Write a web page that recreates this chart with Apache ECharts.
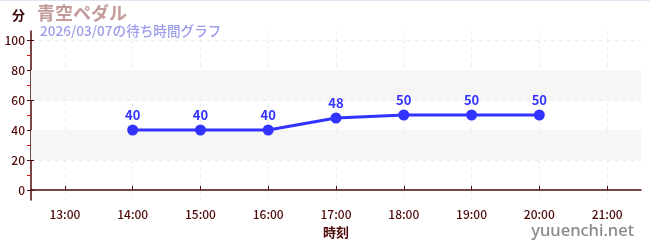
<!DOCTYPE html>
<html>
<head>
<meta charset="utf-8">
<script src="https://cdn.jsdelivr.net/npm/echarts@6/dist/echarts.min.js"></script>
<style>
html,body{margin:0;padding:0;background:#fff;}
#c{width:650px;height:250px;}
</style>
</head>
<body>
<div id="c"></div>
<script>
// ---- data ----
const times = ['14:00', '15:00', '16:00', '17:00', '18:00', '19:00', '20:00'];
const waits = [40, 40, 40, 48, 50, 50, 50];
const xTickLabels = ['13:00', '14:00', '15:00', '16:00', '17:00', '18:00', '19:00', '20:00', '21:00'];
const yTicks = [0, 20, 40, 60, 80, 100];
const yMinorTicks = [10, 30, 50, 70, 90];
const shadedBands = [[20, 40], [60, 80]];
const titleText = '青空ペダル';
const subTitleText = '2026/03/07の待ち時間グラフ';

const toHour = s => { const p = s.split(':'); return +p[0] + (+p[1]) / 60; };
const xTicks = xTickLabels.map(toHour);
const seriesData = times.map((t, i) => [toHour(t), waits[i]]);

const dark = '#4e0a0a';
const font = '"Noto Sans CJK JP", "Noto Sans", sans-serif';

const chart = echarts.init(document.getElementById('c'), null, {renderer: 'canvas'});
const fmtHour = v => {
  const h = Math.floor(v + 1e-6);
  const m = Math.round((v - h) * 60);
  return h + ':' + (m < 10 ? '0' : '') + m;
};
const yAxisBase = {
  type: 'value', min: -6.67, max: 106, position: 'left',
  axisLine: {show: false}, splitLine: {show: false}, axisLabel: {show: false}
};
chart.setOption({
  animation: false,
  textStyle: {fontFamily: font},
  grid: {left: 31, right: 9, top: 31, bottom: 50, containLabel: false},
  graphic: [
    {type: 'rect', shape: {x: 0, y: 0, width: 650, height: 1}, style: {fill: '#e4e4f6'}},
    {type: 'text', left: 12, top: 9, style: {text: '分', font: 'bold 13px ' + font, fill: '#3a0808'}},
    {type: 'text', left: 37, top: 4, style: {text: titleText, font: 'bold 18px ' + font, fill: '#c49a9a'}},
    {type: 'text', left: 40, top: 24, style: {text: subTitleText, font: '500 13.6px ' + font, fill: '#9d9ded'}},
    {type: 'text', right: 16, top: 223, style: {text: 'yuuenchi.net', font: '500 16.5px "Noto Sans", sans-serif', fill: '#888888'}}
  ],
  xAxis: {
    type: 'value', min: 12.5, max: 21.5,
    name: '時刻', nameLocation: 'middle', nameGap: 26,
    nameTextStyle: {color: dark, fontSize: 13, fontWeight: 'bold', fontFamily: font},
    axisLine: {show: true, lineStyle: {color: dark, width: 1.5}},
    axisTick: {show: true, inside: true, length: 4, customValues: xTicks, lineStyle: {color: dark}},
    axisLabel: {customValues: xTicks, formatter: fmtHour, color: dark, fontSize: 12, fontWeight: 500, margin: 8, fontFamily: font},
    splitLine: {show: true, lineStyle: {color: '#ececec', type: [4, 4]}}
  },
  yAxis: [
    {
      type: 'value', min: -6.67, max: 106, position: 'left',
      axisLine: {show: true, lineStyle: {color: dark, width: 1.5}},
      axisTick: {show: true, length: 4, customValues: yTicks, lineStyle: {color: dark}},
      axisLabel: {customValues: yTicks, color: dark, fontSize: 12, fontWeight: 500, margin: 6, fontFamily: font},
      splitLine: {show: true, lineStyle: {color: '#ececec', type: [4, 4]}}
    },
    Object.assign({}, yAxisBase, {
      axisTick: {show: true, inside: true, length: 3, customValues: yTicks, lineStyle: {color: dark}}
    }),
    Object.assign({}, yAxisBase, {
      axisTick: {show: true, length: 4, customValues: yMinorTicks, lineStyle: {color: '#d01010'}}
    })
  ],
  series: [{
    type: 'line',
    data: seriesData,
    symbol: 'circle', symbolSize: 11,
    itemStyle: {color: '#3333ff'},
    lineStyle: {color: '#3333ff', width: 3},
    label: {show: true, position: 'top', distance: 3, color: '#3333ff', fontSize: 13, fontWeight: 'bold', fontFamily: font},
    markArea: {
      silent: true,
      itemStyle: {color: '#f6f6f6'},
      label: {show: false},
      data: shadedBands.map(b => [{yAxis: b[0]}, {yAxis: b[1]}])
    },
    z: 3
  }]
});
</script>
</body>
</html>
